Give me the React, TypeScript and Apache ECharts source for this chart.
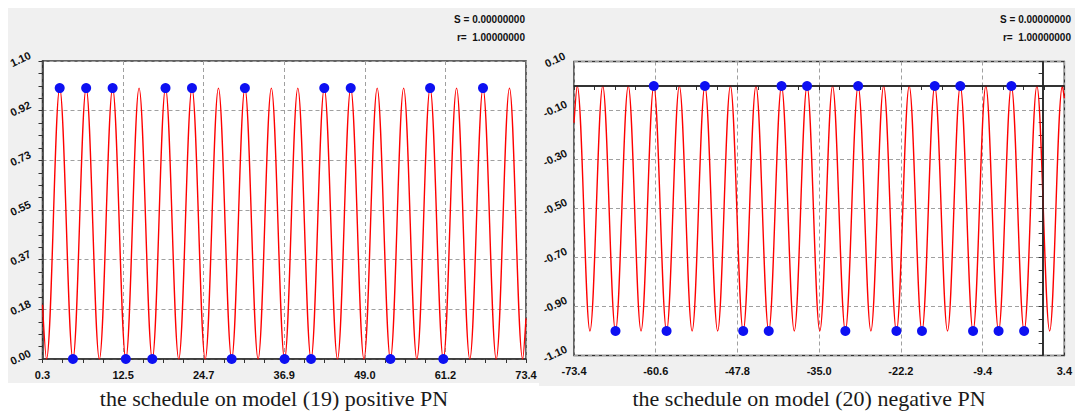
import React, { useEffect, useRef } from "react";
import * as echarts from "echarts";

// ---------- data ----------
const LEFT_X_LABELS = ["0.3", "12.5", "24.7", "36.9", "49.0", "61.2", "73.4"];
const LEFT_Y_LABELS = ["0.00", "0.18", "0.37", "0.55", "0.73", "0.92", "1.10"];
const RIGHT_X_LABELS = ["-73.4", "-60.6", "-47.8", "-35.0", "-22.2", "-9.4", "3.4"];
const RIGHT_Y_LABELS = ["-1.10", "-0.90", "-0.70", "-0.50", "-0.30", "-0.10", "0.10"];

// curve extremes (x, y)
const LEFT_CURVE: [number, number][] = [
  [0.3, 0.2], [0.9, 0], [2.9, 1], [4.9, 0], [6.9, 1], [8.9, 0], [10.9, 1], [12.9, 0],
  [14.9, 1], [16.9, 0], [18.9, 1], [20.9, 0], [22.9, 1], [24.9, 0], [26.9, 1], [28.9, 0],
  [30.9, 1], [32.9, 0], [34.9, 1], [36.9, 0], [38.9, 1], [40.9, 0], [42.9, 1], [44.9, 0],
  [46.9, 1], [48.9, 0], [50.9, 1], [52.9, 0], [54.9, 1], [56.9, 0], [58.9, 1], [60.9, 0],
  [62.9, 1], [64.9, 0], [66.9, 1], [68.9, 0], [70.9, 1], [72.9, 0], [73.4, 0.15],
];
const RIGHT_CURVE: [number, number][] = [
  [-73.4, -0.15], [-72.9, 0], [-70.9, -1], [-68.9, 0], [-66.9, -1], [-64.9, 0], [-62.9, -1],
  [-60.9, 0], [-58.9, -1], [-56.9, 0], [-54.9, -1], [-52.9, 0], [-50.9, -1], [-48.9, 0],
  [-46.9, -1], [-44.9, 0], [-42.9, -1], [-40.9, 0], [-38.9, -1], [-36.9, 0], [-34.9, -1],
  [-32.9, 0], [-30.9, -1], [-28.9, 0], [-26.9, -1], [-24.9, 0], [-22.9, -1], [-20.9, 0],
  [-18.9, -1], [-16.9, 0], [-14.9, -1], [-12.9, 0], [-10.9, -1], [-8.9, 0], [-6.9, -1],
  [-4.9, 0], [-2.9, -1], [-0.9, 0], [1.1, -1], [3.1, 0], [3.4, -0.05],
];

// highlighted points (blue dots)
const LEFT_MARKERS: [number, number][] = [
  [2.9, 1], [6.9, 1], [10.9, 1], [18.9, 1], [22.9, 1], [30.9, 1], [42.9, 1], [46.9, 1],
  [58.9, 1], [66.9, 1],
  [4.9, 0], [12.9, 0], [16.9, 0], [28.9, 0], [36.9, 0], [40.9, 0], [52.9, 0], [60.9, 0],
];
const RIGHT_MARKERS: [number, number][] = [
  [-60.9, 0], [-52.9, 0], [-40.9, 0], [-36.9, 0], [-28.9, 0], [-16.9, 0], [-12.9, 0], [-4.9, 0],
  [-66.9, -1], [-58.9, -1], [-46.9, -1], [-42.9, -1], [-30.9, -1], [-22.9, -1], [-18.9, -1],
  [-10.9, -1], [-6.9, -1], [-2.9, -1],
];

const STAT_S = "S = 0.00000000";
const STAT_R = "r=  1.00000000";
const CAPTION_LEFT = "the schedule on model (19) positive PN";
const CAPTION_RIGHT = "the schedule on model (20) negative PN";

// axis ranges
const LEFT_X_RANGE = [0.3, 73.4];
const LEFT_Y_RANGE = [0, 1.1];
const RIGHT_X_RANGE = [-73.4, 3.4];
const RIGHT_Y_RANGE = [-1.1, 0.1];

// ---------- styling ----------
const AXIS_FONT = "'Liberation Sans', Arial, sans-serif";
const AXIS_COLOR = "#333";
const GRID_DASH = { color: "#a0a0a0", width: 1, type: [4, 3] as number[] };
const LABEL_ROT = (25 * Math.PI) / 180;

function makeXAxis(gridIndex: number, range: number[], labels: string[]) {
  return {
    type: "value",
    gridIndex,
    min: range[0],
    max: range[1],
    interval: (range[1] - range[0]) / (labels.length - 1),
    axisLine: { show: true, lineStyle: { color: AXIS_COLOR, width: 1.5 } },
    axisTick: { show: true, length: 4, lineStyle: { color: AXIS_COLOR } },
    minorTick: { show: true, splitNumber: 4, length: 4, lineStyle: { color: AXIS_COLOR } },
    splitLine: { show: true, lineStyle: GRID_DASH },
    axisLabel: {
      show: true,
      margin: 10,
      color: "#111",
      fontFamily: AXIS_FONT,
      fontWeight: "bold",
      fontSize: 11,
      showMinLabel: true,
      showMaxLabel: true,
      formatter: (_v: number, i: number) => labels[i] ?? "",
    },
  };
}

function makeYAxis(gridIndex: number, range: number[], labels: string[]) {
  return {
    type: "value",
    gridIndex,
    min: range[0],
    max: range[1],
    interval: (range[1] - range[0]) / (labels.length - 1),
    axisLine: { show: true, lineStyle: { color: AXIS_COLOR, width: 1.5 } },
    axisTick: { show: true, length: 4, lineStyle: { color: AXIS_COLOR } },
    minorTick: { show: true, splitNumber: 4, length: 4, lineStyle: { color: AXIS_COLOR } },
    splitLine: { show: true, lineStyle: GRID_DASH },
    // labels are drawn rotated as graphic texts placed through the axis scale
    axisLabel: { show: false },
  };
}

function lineSeries(xIdx: number, data: [number, number][], extra: any = {}) {
  return {
    type: "line",
    xAxisIndex: xIdx,
    yAxisIndex: xIdx,
    data,
    smooth: 0.36,
    showSymbol: false,
    symbol: "none",
    lineStyle: { color: "#ff0000", width: 1.4 },
    z: 3,
    ...extra,
  };
}

function markerSeries(xIdx: number, data: [number, number][]) {
  return {
    type: "scatter",
    xAxisIndex: xIdx,
    yAxisIndex: xIdx,
    data,
    symbol: "circle",
    symbolSize: 10,
    clip: false,
    itemStyle: { color: "#0d10f2", opacity: 1 },
    z: 5,
  };
}

function statText(right: number, y: number, text: string) {
  return {
    type: "text",
    z: 100,
    x: right,
    y,
    style: {
      text,
      fill: "#111",
      font: `bold 10px ${AXIS_FONT}`,
      align: "right",
      verticalAlign: "middle",
    },
  };
}

function captionText(cx: number, text: string) {
  return {
    type: "text",
    z: 100,
    x: cx,
    y: 398,
    style: {
      text,
      fill: "#1a1a1a",
      font: "22px 'Liberation Serif', 'Times New Roman', serif",
      align: "center",
      verticalAlign: "middle",
    },
  };
}

export default function App() {
  const ref = useRef<HTMLDivElement>(null);

  useEffect(() => {
    if (!ref.current) return;
    const chart = echarts.init(ref.current, undefined, { renderer: "svg" });
    const baseGraphics: any[] = [
      { type: "rect", z: -100, shape: { x: 8, y: 8, width: 534, height: 375 }, style: { fill: "#f0f0f0" } },
      { type: "rect", z: -100, shape: { x: 539, y: 8, width: 536, height: 378 }, style: { fill: "#f0f0f0" } },
      statText(525, 19, STAT_S),
      statText(525, 37, STAT_R),
      statText(1071, 19, STAT_S),
      statText(1071, 37, STAT_R),
      captionText(274, CAPTION_LEFT),
      captionText(809, CAPTION_RIGHT),
    ];
    const option: any = {
      animation: false,
      backgroundColor: "#ffffff",
      graphic: baseGraphics,
      grid: [
        {
          left: 42.5, top: 61, width: 483.5, height: 298,
          show: true, backgroundColor: "#ffffff", borderColor: AXIS_COLOR, borderWidth: 1.5,
        },
        {
          left: 574, top: 61.5, width: 497, height: 294,
          show: true, backgroundColor: "#ffffff", borderColor: AXIS_COLOR, borderWidth: 1.5,
        },
      ],
      xAxis: [makeXAxis(0, LEFT_X_RANGE, LEFT_X_LABELS), makeXAxis(1, RIGHT_X_RANGE, RIGHT_X_LABELS)],
      yAxis: [makeYAxis(0, LEFT_Y_RANGE, LEFT_Y_LABELS), makeYAxis(1, RIGHT_Y_RANGE, RIGHT_Y_LABELS)],
      series: [
        lineSeries(0, LEFT_CURVE),
        markerSeries(0, LEFT_MARKERS),
        lineSeries(1, RIGHT_CURVE, {
          markLine: {
            silent: true,
            symbol: "none",
            label: { show: false },
            lineStyle: { color: "#222", width: 1.5, type: "solid" },
            data: [{ yAxis: 0 }, { xAxis: 0 }],
          },
        }),
        markerSeries(1, RIGHT_MARKERS),
      ],
    };
    chart.setOption(option);

    // rotated y-axis tick labels, positioned with the chart's own scales
    const yLabelGraphics: any[] = [];
    const addYLabels = (gridIndex: number, xr: number[], yr: number[], labels: string[], offset: number) => {
      const step = (yr[1] - yr[0]) / (labels.length - 1);
      labels.forEach((t, i) => {
        const p = chart.convertToPixel({ gridIndex } as any, [xr[0], yr[0] + i * step]) as number[];
        if (!p) return;
        yLabelGraphics.push({
          type: "group",
          z: 100,
          x: p[0] - offset,
          y: p[1] - 2,
          rotation: LABEL_ROT,
          children: [
            {
              type: "text",
              z: 100,
              x: 0,
              y: 0,
              style: {
                text: t,
                fill: "#111",
                font: `bold 11px ${AXIS_FONT}`,
                align: "center",
                verticalAlign: "middle",
              },
            },
          ],
        });
      });
    };
    addYLabels(0, LEFT_X_RANGE, LEFT_Y_RANGE, LEFT_Y_LABELS, 22);
    addYLabels(1, RIGHT_X_RANGE, RIGHT_Y_RANGE, RIGHT_Y_LABELS, 19);
    chart.setOption({ graphic: { elements: [...baseGraphics, ...yLabelGraphics] } });

    return () => chart.dispose();
  }, []);

  return (
    <div
      ref={ref}
      style={{ position: "absolute", left: 0, top: 0, width: 1075, height: 412 }}
    />
  );
}
